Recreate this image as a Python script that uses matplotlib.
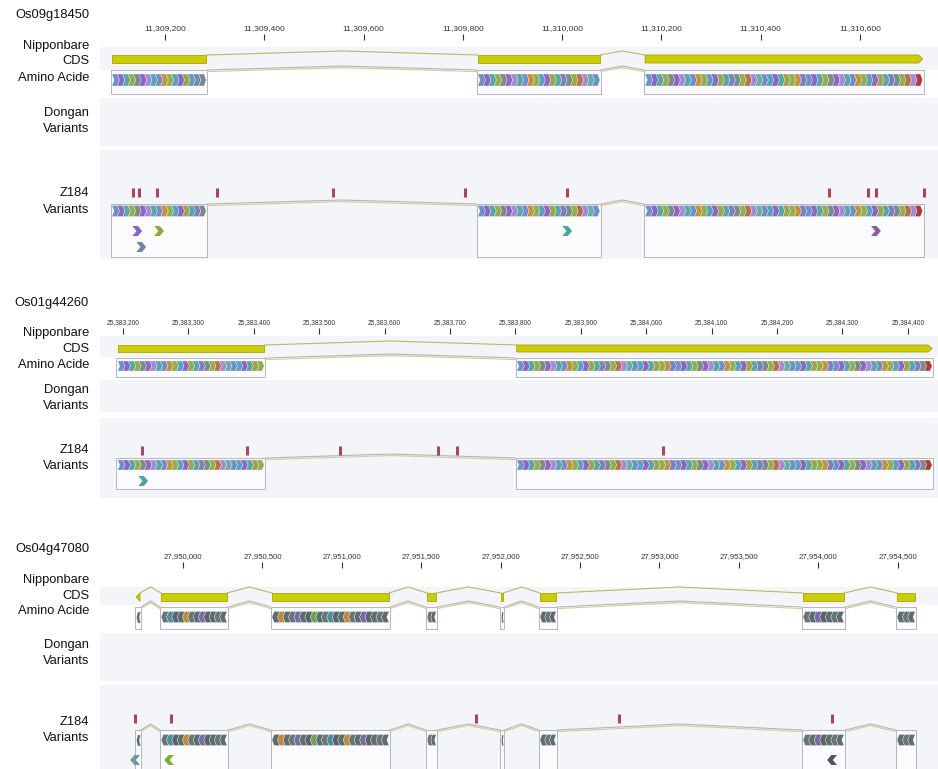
import numpy as np
import matplotlib
matplotlib.use("Agg")
import matplotlib.pyplot as plt
from matplotlib.collections import PolyCollection
from matplotlib.patches import Rectangle, Polygon

plt.rcParams['font.family'] = ['Liberation Sans', 'DejaVu Sans']

W, H = 938, 769

gene_names = ["Os09g18450", "Os01g44260", "Os04g47080"]

# Os09g18450 (forward strand)
view1 = (11309069, 11310757)
ticks1 = [11309200, 11309400, 11309600, 11309800, 11310000, 11310200, 11310400, 11310600]
exons1 = [(11309093, 11309283), (11309830, 11310076), (11310167, 11310726)]
snps1 = [11309136, 11309148, 11309184, 11309305, 11309538, 11309804,
         11310010, 11310537, 11310616, 11310632, 11310728]
alt_pos1 = [11309144, 11309188, 11309152, 11310010, 11310632]
alt_row1 = [0, 0, 1, 0, 0]
alt_col1 = ["#8a63c4", "#86b03a", "#6b8aa8", "#4fa39a", "#8c5a9e"]

# Os01g44260 (forward strand)
view2 = (25383165, 25384446)
ticks2 = [25383200, 25383300, 25383400, 25383500, 25383600, 25383700, 25383800,
          25383900, 25384000, 25384100, 25384200, 25384300, 25384400]
exons2 = [(25383192, 25383416), (25383802, 25384437)]
snps2 = [25383229, 25383390, 25383532, 25383682, 25383711, 25384026]
alt_pos2 = [25383231]
alt_row2 = [0]
alt_col2 = ["#4fa3a8"]

# Os04g47080 (reverse strand)
view3 = (27949477, 27954754)
ticks3 = [27950000, 27950500, 27951000, 27951500, 27952000,
          27952500, 27953000, 27953500, 27954000, 27954500]
exons3 = [(27949704, 27949729), (27949862, 27950277), (27950560, 27951297),
          (27951537, 27951593), (27952002, 27952015), (27952248, 27952349),
          (27953904, 27954162), (27954496, 27954610)]
snps3 = [27949698, 27949924, 27951845, 27952746, 27954087]
alt_pos3 = [27949698, 27949912, 27954087]
alt_row3 = [0, 0, 0]
alt_col3 = ["#6f9aa0", "#86b03a", "#4a5560"]

# chevron colours (fixed cycle)
fwd_colours = ["#6f8fc9", "#8a67c0", "#8fb04a", "#59a6a6", "#7d8a8a", "#a58bd6",
               "#c4913f", "#5e9fc0", "#9aa54c", "#7a7fbf", "#b8704a", "#66b0a0"]
fwd_order = [0, 1, 3, 2, 4, 1, 5, 3, 0, 6, 2, 7, 1, 8, 3, 9, 4, 2, 10, 5, 11, 0, 7, 1, 3, 8, 2, 6, 9]
rev_colours = ["#5d6c6c", "#667575", "#7a6aa8", "#c08a3a", "#6fa05a", "#4f8c9c", "#586468"]
rev_order = [0, 1, 0, 6, 2, 0, 1, 3, 0, 6, 5, 1, 0, 4, 6, 0, 2, 1, 0, 3]

BAND = "#f4f5f9"
OLIVE = "#b8b86a"
GREY = "#b4b4bc"


def fx(x):
    return x / W


def fy(y):
    return 1 - y / H


def caret(ax, x0, x1, y, h, colour, lw=0.8):
    ax.plot([x0, (x0 + x1) / 2, x1], [y, y - h, y], color=colour, lw=lw,
            solid_joinstyle='round', zorder=3)


def chevrons(ax, a, b, yc, hh, step, strand, last_red):
    polys, cols = [], []
    n = max(1, int(round((b - a) / step)))
    s = (b - a) / (n + 0.4)
    for i in range(n):
        if strand > 0:
            x = a + i * s
            polys.append([(x, yc - hh), (x + s, yc - hh), (x + 1.4 * s, yc),
                          (x + s, yc + hh), (x, yc + hh), (x + 0.4 * s, yc)])
            cols.append(fwd_colours[fwd_order[i % len(fwd_order)]])
        else:
            x = b - i * s
            polys.append([(x, yc - hh), (x - s, yc - hh), (x - 1.4 * s, yc),
                          (x - s, yc + hh), (x, yc + hh), (x - 0.4 * s, yc)])
            cols.append(rev_colours[rev_order[i % len(rev_order)]])
    if last_red and strand > 0:
        cols[-1] = "#b03a3a"
    pc = PolyCollection(polys, facecolors=cols, edgecolors="#ffffff", linewidths=0.2, zorder=5)
    ax.add_collection(pc)


def single_chev(ax, x, yc, hh, s, strand, colour):
    if strand > 0:
        pts = [(x - 0.7 * s, yc - hh), (x + 0.1 * s, yc - hh), (x + 0.7 * s, yc),
               (x + 0.1 * s, yc + hh), (x - 0.7 * s, yc + hh), (x - 0.1 * s, yc)]
    else:
        pts = [(x + 0.7 * s, yc - hh), (x - 0.1 * s, yc - hh), (x - 0.7 * s, yc),
               (x - 0.1 * s, yc + hh), (x + 0.7 * s, yc + hh), (x + 0.1 * s, yc)]
    ax.add_patch(Polygon(pts, closed=True, fc=colour, ec="none", zorder=6))


def panel(fig, lay, name, view, ticks, exons, strand, snps, alt_pos, alt_row, alt_col, tick_fs):
    top, bot = lay["axtop"], lay["axbot"]
    ax = fig.add_axes([fx(100), fy(bot), fx(838), (bot - top) / H])
    ax.set_xlim(view)
    ax.set_ylim(bot, top)
    for sp in ax.spines.values():
        sp.set_visible(False)
    ax.set_yticks([])
    ax.xaxis.tick_top()
    ax.set_xticks(ticks)
    ax.set_xticklabels([f"{t:,}" for t in ticks])
    ax.tick_params(axis='x', direction='out', length=4, width=0.8, pad=1.5,
                   labelsize=tick_fs, colors="#333333")
    ax.set_facecolor("white")
    bppx = (view[1] - view[0]) / 838.0

    # background bands
    for y0, y1 in (lay["cds_band"], lay["dongan_band"], lay["z_band"]):
        ax.add_patch(Rectangle((view[0], y0), view[1] - view[0], y1 - y0,
                               fc=BAND, ec="none", zorder=0))

    # CDS track
    c0, c1 = lay["cds"]
    for i, (a, b) in enumerate(exons):
        if strand > 0 and i == len(exons) - 1:
            tip = 4 * bppx
            pts = [(a, c0), (b - tip, c0), (b, (c0 + c1) / 2), (b - tip, c1), (a, c1)]
        elif strand < 0 and i == 0:
            tip = 4 * bppx
            pts = [(a + tip, c0), (b, c0), (b, c1), (a + tip, c1), (a, (c0 + c1) / 2)]
        else:
            pts = [(a, c0), (b, c0), (b, c1), (a, c1)]
        ax.add_patch(Polygon(pts, closed=True, fc="#cccc0a", ec="#a6a600", lw=0.6, zorder=4))
        if i < len(exons) - 1:
            caret(ax, b, exons[i + 1][0], c0, lay["arc_h"], OLIVE)

    # amino acid tracks (reference and Z184)
    for (b0, b1), (yc, hh) in ((lay["aa_box"], lay["aa_chev"]), (lay["z_box"], lay["z_chev"])):
        for i, (a, b) in enumerate(exons):
            pad = 1.2 * bppx
            ax.add_patch(Rectangle((a - pad, b0), b - a + 2 * pad, b1 - b0,
                                   fc="#fbfbfd", ec=GREY, lw=0.7, zorder=2))
            chevrons(ax, a, b, yc, hh, 5.5 * bppx, strand, i == len(exons) - 1)
            if i < len(exons) - 1:
                caret(ax, b + pad, exons[i + 1][0] - pad, b0, lay["arc_h"], GREY, 0.8)
                caret(ax, b + pad, exons[i + 1][0] - pad, b0 + 1.6, lay["arc_h"], "#cfcf9a", 0.8)

    # Z184 variants
    s0, s1 = lay["snp"]
    ax.vlines(snps, s0, s1, colors="#a8485c", lw=2.2, zorder=6)
    for p, r, c in zip(alt_pos, alt_row, alt_col):
        single_chev(ax, p, lay["alt_rows"][r], 5, 7 * bppx, strand, c)

    # left-hand labels
    kw = dict(ha='right', va='center', fontsize=9.3, color="#111111")
    fig.text(fx(89), fy(lay["title"]), name, **kw)
    for key, txt in (("nip", "Nipponbare"), ("cdsl", "CDS"), ("aal", "Amino Acide"),
                     ("dl", "Dongan"), ("dvl", "Variants"), ("zl", "Z184"), ("zvl", "Variants")):
        fig.text(fx(89), fy(lay[key]), txt, **kw)
    return ax


lay1 = dict(axtop=40, axbot=262, title=15, nip=46, cdsl=61, aal=78, dl=113, dvl=129, zl=193, zvl=210,
            cds_band=(47, 70), dongan_band=(98, 146), z_band=(150, 259), cds=(55, 63), arc_h=4,
            aa_box=(70, 94), aa_chev=(80, 6), z_box=(204, 257), z_chev=(211, 5.5),
            snp=(188, 197), alt_rows=(231, 247))
lay2 = dict(axtop=334, axbot=500, title=303, nip=333, cdsl=349, aal=365, dl=390, dvl=406, zl=450, zvl=466,
            cds_band=(336, 357), dongan_band=(380, 412), z_band=(418, 498), cds=(345, 352), arc_h=4,
            aa_box=(358, 377), aa_chev=(366, 5), z_box=(458, 489), z_chev=(465, 5),
            snp=(446, 455), alt_rows=(481, 481))
lay3 = dict(axtop=568, axbot=769, title=549, nip=580, cdsl=596, aal=611, dl=645, dvl=661, zl=722, zvl=738,
            cds_band=(587, 605), dongan_band=(633, 681), z_band=(685, 769), cds=(593, 601), arc_h=6,
            aa_box=(607, 629), aa_chev=(617, 5.5), z_box=(730, 772), z_chev=(740, 5.5),
            snp=(714, 723), alt_rows=(760, 760))

fig = plt.figure(figsize=(W / 100, H / 100), dpi=100)
fig.patch.set_facecolor("white")

panel(fig, lay1, gene_names[0], view1, ticks1, exons1, 1, snps1, alt_pos1, alt_row1, alt_col1, 6.0)
panel(fig, lay2, gene_names[1], view2, ticks2, exons2, 1, snps2, alt_pos2, alt_row2, alt_col2, 4.8)
panel(fig, lay3, gene_names[2], view3, ticks3, exons3, -1, snps3, alt_pos3, alt_row3, alt_col3, 5.6)

fig.savefig("out.png", dpi=100, facecolor="white")
